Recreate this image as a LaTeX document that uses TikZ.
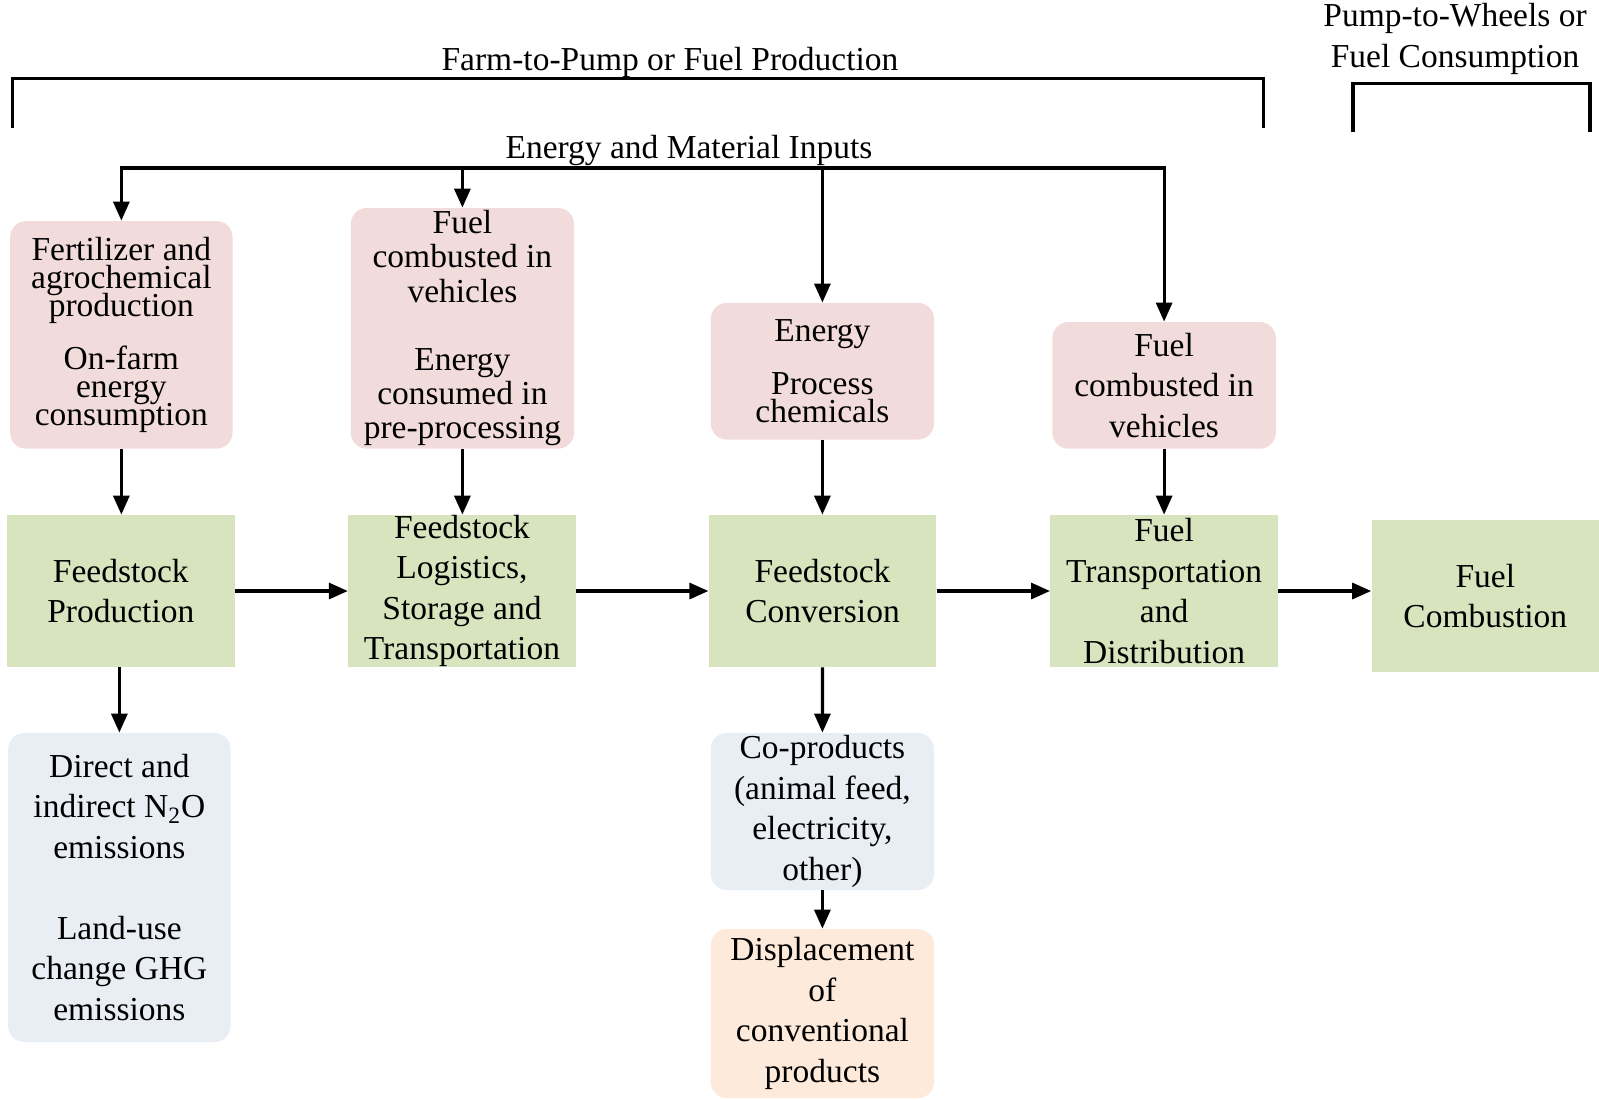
\documentclass[tikz,border=0pt]{standalone}
\usepackage{fontspec}
\setmainfont{Liberation Serif}
\usetikzlibrary{arrows.meta}
\definecolor{pinkbox}{HTML}{F2DCDB}
\definecolor{greenbox}{HTML}{D7E4BD}
\definecolor{bluebox}{HTML}{E9EEF5}
\definecolor{orangebox}{HTML}{FDEADA}
\newcommand{\mytightfont}{\fontsize{16.75}{14}\selectfont\lineskiplimit=-30pt\relax\lineskip=0pt\relax}
\tikzset{
  every node/.style={font=\fontsize{16.75}{20.25}\selectfont},
  box/.style={rectangle, inner sep=0pt, align=center},
  roundbox/.style={box, rounded corners=8pt},
  pinkb/.style={roundbox, fill=pinkbox},
  greenb/.style={box, fill=greenbox, minimum width=113.7pt, minimum height=76pt},
  blueb/.style={roundbox, fill=bluebox},
  orangeb/.style={roundbox, fill=orangebox},
  tight/.style={font=\mytightfont},
  arr/.style={line width=1.6pt, -{Triangle[length=9.5pt,width=8pt]}},
  brk/.style={line width=1.7pt},
}
\begin{document}
\begin{tikzpicture}[x=0.5pt, y=-0.5pt]
\useasboundingbox (0,0) rectangle (1599,1099);

% brackets
\draw[brk] (12.2,127.5) -- (12.2,78.5) -- (1263.5,78.5) -- (1263.5,127.5);
\draw[brk] (1353,131.5) -- (1353,83.6) -- (1590,83.6) -- (1590,131.5);
\node[anchor=base] (farm) at (670,70) {Farm-to-Pump or Fuel Production};
\node[align=center] (pump) at (1455,39) {Pump-to-Wheels or\\Fuel Consumption};
\node[anchor=base] (inputs) at (689,158) {Energy and Material Inputs};

% input boxes
\node[pinkb, tight, minimum width=111.15pt, minimum height=113.85pt] (P1) at (121.35,334.85)
  {Fertilizer and\\agrochemical\\production\\[12.5pt]On-farm\\energy\\consumption};
\node[pinkb, font=\fontsize{16.75}{17.1}\selectfont, minimum width=111.6pt, minimum height=120.35pt] (P2) at (462.4,328.35)
  {Fuel\\combusted in\\vehicles\\[17.1pt]Energy\\consumed in\\pre-processing};
\node[pinkb, tight, minimum width=111.6pt, minimum height=68.3pt] (P3) at (822.4,371.2)
  {Energy\\[12.5pt]Process\\chemicals};
\node[pinkb, font=\fontsize{16.75}{20.4}\selectfont, minimum width=111.7pt, minimum height=63.35pt] (P4) at (1164.1,385.35)
  {Fuel\\combusted in\\vehicles};

% main chain
\node[greenb] (G1) at (120.8,591) {Feedstock\\Production};
\node[greenb] (G2) at (461.95,591) {Feedstock\\Logistics,\\Storage and\\Transportation};
\node[greenb] (G3) at (822.5,591) {Feedstock\\Conversion};
\node[greenb] (G4) at (1164.1,591) {Fuel\\Transportation\\and\\Distribution};
\node[greenb] (G5) at (1485.3,596) {Fuel\\Combustion};

% outputs
\node[blueb, minimum width=111.15pt, minimum height=154.5pt] (B1) at (119.35,887.5)
  {Direct and\\indirect N\textsubscript{2}O\\emissions\\[20.25pt]Land-use\\change GHG\\emissions};
\node[blueb, minimum width=111.6pt, minimum height=78.5pt] (B2) at (822.4,811.5)
  {Co-products\\(animal feed,\\electricity,\\other)};
\node[orangeb, minimum width=111.6pt, minimum height=84.5pt] (O1) at (822.4,1013.5)
  {Displacement\\of\\conventional\\products};

% input bus
\coordinate (bus) at (600,168);
\draw[arr] (bus) -| (P1.north);
\draw[arr] (bus) -| (P4.north);
\draw[arr] (P2.north |- bus) -- (P2.north);
\draw[arr] (P3.north |- bus) -- (P3.north);

% inputs to chain
\draw[arr] (P1.south) -- (P1.south |- G1.north);
\draw[arr] (P2.south) -- (P2.south |- G2.north);
\draw[arr] (P3.south) -- (P3.south |- G3.north);
\draw[arr] (P4.south) -- (P4.south |- G4.north);

% chain
\draw[arr] (G1.east) -- (G2.west);
\draw[arr] (G2.east) -- (G3.west);
\draw[arr] (G3.east) -- (G4.west);
\draw[arr] (G4.east) -- (G5.west |- G4.east);

% outputs
\draw[arr] (B1.north |- G1.south) -- (B1.north);
\draw[arr] (G3.south) -- (B2.north);
\draw[arr] (B2.south) -- (O1.north);
\end{tikzpicture}
\end{document}
